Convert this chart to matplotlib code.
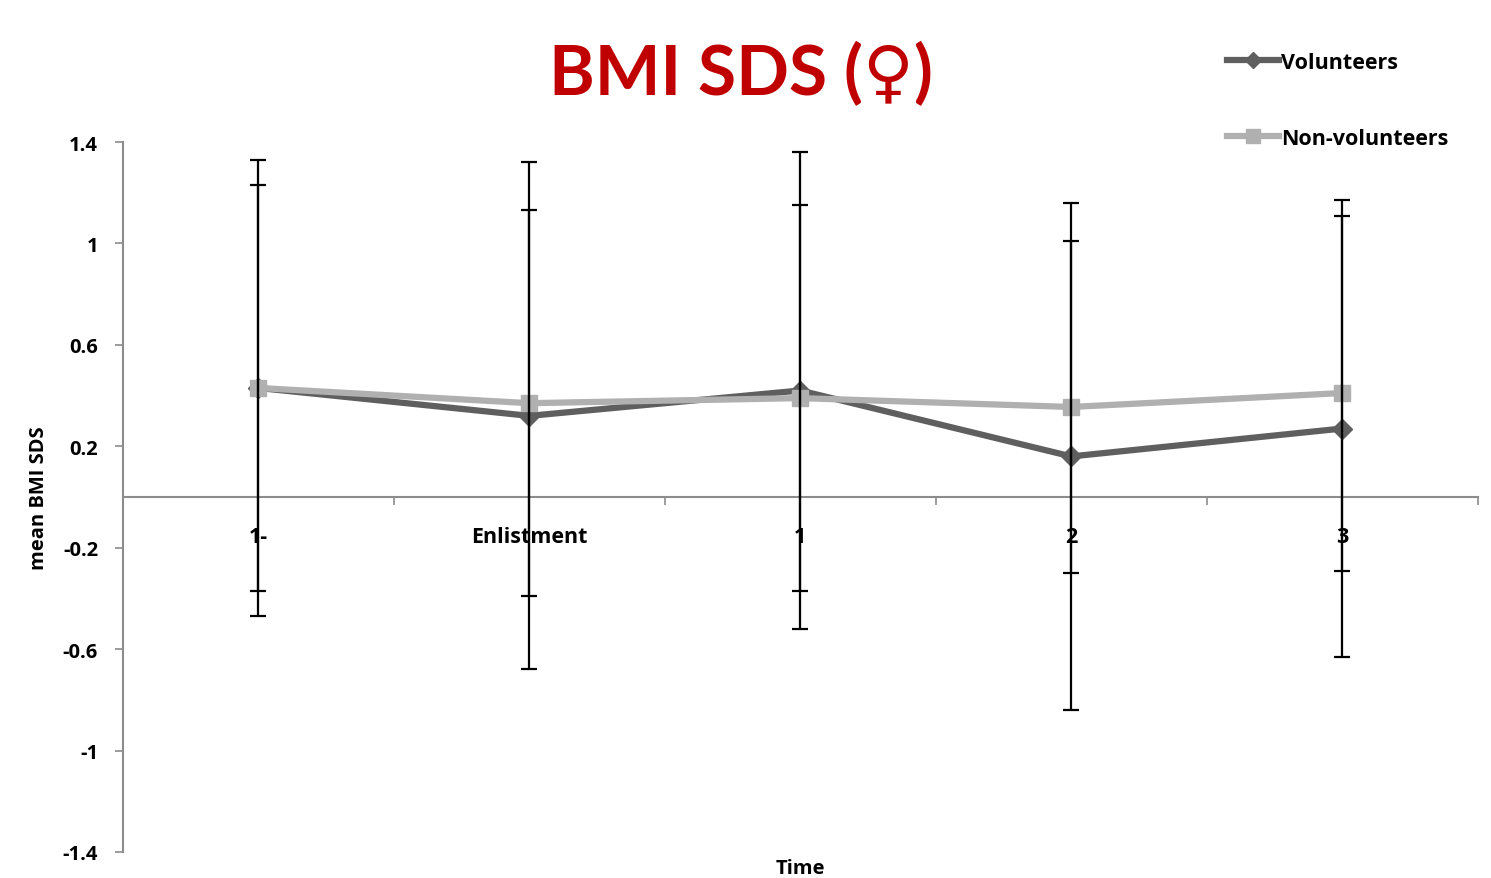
import numpy as np
import matplotlib.pyplot as plt
from matplotlib.ticker import FixedLocator

# data
timepoints = ['1-', 'Enlistment', '1', '2', '3']
volunteers = [0.43, 0.32, 0.42, 0.16, 0.27]
volunteers_err = [0.90, 1.00, 0.94, 1.00, 0.90]
non_volunteers = [0.43, 0.37, 0.39, 0.355, 0.41]
non_volunteers_err = [0.80, 0.76, 0.76, 0.655, 0.70]

plt.rcParams['font.family'] = ['Open Sans', 'DejaVu Sans']

fig = plt.figure(figsize=(14.91, 8.79), dpi=100)
ax = fig.add_axes([0.0825, 0.0296, 0.9085, 0.8077])

x = np.arange(len(timepoints))
darkGray = '#5f5f5f'
lightGray = '#b0b0b0'

ax.plot(x, volunteers, color=darkGray, lw=4.5, marker='D', ms=10,
        label='Volunteers', zorder=3)
ax.plot(x, non_volunteers, color=lightGray, lw=4.5, marker='s', ms=12,
        label='Non-volunteers', zorder=3)

# error bars for both groups, drawn on top of the lines
ax.errorbar(x, volunteers, yerr=volunteers_err, fmt='none', ecolor='black',
            elinewidth=1.6, capsize=6, capthick=1.6, zorder=4)
ax.errorbar(x, non_volunteers, yerr=non_volunteers_err, fmt='none', ecolor='black',
            elinewidth=1.6, capsize=6, capthick=1.6, zorder=4)

ax.set_xlim(-0.5, 4.5)
ax.set_ylim(-1.4, 1.4)
ax.set_yticks([1.4, 1, 0.6, 0.2, -0.2, -0.6, -1, -1.4])
ax.set_yticklabels(['1.4', '1', '0.6', '0.2', '-0.2', '-0.6', '-1', '-1.4'],
                   fontsize=14.5, fontweight='bold')

ax.spines['top'].set_visible(False)
ax.spines['right'].set_visible(False)
ax.spines['bottom'].set_position(('data', 0))
ax.spines['left'].set_color('#8c8c8c')
ax.spines['bottom'].set_color('#8c8c8c')
ax.spines['left'].set_linewidth(1.5)
ax.spines['bottom'].set_linewidth(1.5)

ax.set_xticks(x)
ax.set_xticklabels(timepoints, fontsize=15.5, fontweight='bold')
ax.xaxis.set_minor_locator(FixedLocator(np.arange(0.5, 5, 1)))
ax.tick_params(axis='x', which='major', length=0, pad=21)
ax.tick_params(axis='x', which='minor', length=6, color='#8c8c8c', width=1.2)
ax.tick_params(axis='y', length=6, color='#8c8c8c', width=1.2, pad=12)

ax.set_ylabel('mean BMI SDS', fontsize=14.5, fontweight='bold', labelpad=10)
fig.text(0.537, 0.0, 'Time', fontsize=14.5, fontweight='bold', ha='center', va='bottom')

fig.text(0.497, 0.915, 'BMI SDS (\u2640)', color='#c00000', fontsize=50,
         fontweight='bold', ha='center', va='center',
         family=['Lato', 'DejaVu Sans'])

fig.legend(loc='upper left', bbox_to_anchor=(0.81, 0.962), frameon=False,
           prop={'size': 15.5, 'weight': 'bold'}, handlelength=2.4,
           handletextpad=0.1, labelspacing=2.55, markerscale=0.8)

fig.savefig('out.png', dpi=100)
